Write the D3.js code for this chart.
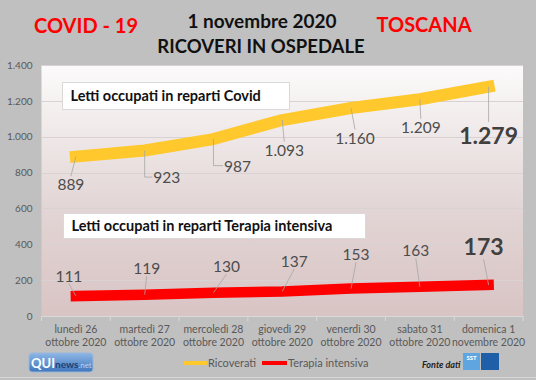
<!DOCTYPE html>
<html><head><meta charset="utf-8">
<script src="https://cdn.jsdelivr.net/npm/d3@7/dist/d3.min.js"></script>
<style>
html,body{margin:0;padding:0;background:#c0c0c0;}
svg{display:block;font-family:Lato,"Open Sans",sans-serif;}
</style></head>
<body>
<svg id="chart" width="536" height="380"></svg>
<script>
// ---- data ----
const categories = ["lunedì 26|ottobre 2020","martedì 27|ottobre 2020","mercoledì 28|ottobre 2020","giovedì  29|ottobre 2020","venerdì 30|ottobre 2020","sabato 31|ottobre 2020","domenica 1|novembre 2020"];
const ricoverati = [889, 923, 987, 1093, 1160, 1209, 1279];
const terapia = [111, 119, 130, 137, 153, 163, 173];
const yTicks = [0, 200, 400, 600, 800, 1000, 1200, 1400];
const seriesNames = ["Ricoverati", "Terapia intensiva"];
const titleMain = "1 novembre 2020";
const titleSub = "RICOVERI IN OSPEDALE";
const titleLeft = "COVID - 19";
const titleRight = "TOSCANA";
const noteCovid = "Letti occupati in reparti Covid";
const noteTI = "Letti occupati in reparti Terapia intensiva";

// label placement (layout, not data)
const ricOffsets = [[-5,28],[22,27],[24,27],[2,30],[4,30],[1,28],[0,49]];
const terOffsets = [[-7,-20],[2,-26],[13,-26],[12,-30],[5,-34],[-4,-36],[-5,-38]];

const loc = d3.formatLocale({decimal:",", thousands:".", grouping:[3], currency:["€",""]});
const fmt = loc.format(",d");

const svg = d3.select("#chart");
const W = 536, H = 380;
const plot = {left: 41.5, right: 523, top: 65, bottom: 316};

svg.append("rect").attr("width", W).attr("height", H).attr("fill", "#c0c0c0");
svg.append("line").attr("x1",0).attr("x2",W).attr("y1",377.5).attr("y2",377.5).attr("stroke","#d6d6d6");

const defs = svg.append("defs");
const grad = defs.append("linearGradient").attr("id","bg").attr("x1",0).attr("x2",0).attr("y1",0).attr("y2",1);
grad.append("stop").attr("offset","0%").attr("stop-color","#fcfbfb");
grad.append("stop").attr("offset","55%").attr("stop-color","#e3d6d6");
grad.append("stop").attr("offset","100%").attr("stop-color","#d9c4c4");

const x = d3.scaleBand().domain(categories).range([plot.left, plot.right]);
const y = d3.scaleLinear().domain([0, 1400]).range([plot.bottom, plot.top]);
const cx = c => x(c) + x.bandwidth()/2;

// plot area
svg.append("rect").attr("x", plot.left).attr("y", plot.top)
  .attr("width", plot.right - plot.left).attr("height", plot.bottom - plot.top)
  .attr("fill", "url(#bg)");

// grid
svg.append("g").selectAll("line").data(yTicks.filter(t => t > 0)).join("line")
  .attr("x1", plot.left).attr("x2", plot.right)
  .attr("y1", d => Math.round(y(d)) + 0.5).attr("y2", d => Math.round(y(d)) + 0.5)
  .attr("stroke", "#d8d2d2").attr("stroke-width", 1);

// y axis
const yAxis = svg.append("g").attr("transform", `translate(${plot.left},0)`)
  .call(d3.axisLeft(y).tickValues(yTicks).tickFormat(fmt).tickSize(0).tickPadding(9));
yAxis.select(".domain").remove();
yAxis.selectAll("text").attr("fill", "#595959").style("font-size", "10px").style("font-family", "Lato");

// x axis
const xAxis = svg.append("g").attr("transform", `translate(0,${plot.bottom})`)
  .call(d3.axisBottom(x).tickSize(0).tickFormat(""));
xAxis.select(".domain").attr("stroke", "#d9d9d9");
xAxis.selectAll(".tick").remove();
svg.append("g").selectAll("line").data(d3.range(categories.length + 1)).join("line")
  .attr("x1", i => plot.left + i * x.bandwidth()).attr("x2", i => plot.left + i * x.bandwidth())
  .attr("y1", plot.bottom).attr("y2", plot.bottom + 5).attr("stroke", "#d9d9d9");
const xl = svg.append("g").selectAll("text").data(categories).join("text")
  .attr("x", d => cx(d)).attr("y", plot.bottom + 17)
  .attr("text-anchor", "middle").attr("fill", "#595959").style("font-size", "10.5px");
xl.append("tspan").attr("x", d => cx(d)).text(d => d.split("|")[0]);
xl.append("tspan").attr("x", d => cx(d)).attr("dy", 13).text(d => d.split("|")[1]);

// annotation boxes
function noteBox(txt, bx, by, bw, bh) {
  const g = svg.append("g");
  g.append("rect").attr("x", bx).attr("y", by).attr("width", bw).attr("height", bh)
    .attr("fill", "#ffffff").attr("stroke", "#d9d9d9");
  g.append("text").attr("x", bx + 8).attr("y", by + bh/2).attr("dy", "0.36em")
    .attr("fill", "#111").style("font-weight", "bold").style("font-size", "14.5px").text(txt);
}
noteBox(noteCovid, 62.5, 82.5, 227, 27);
noteBox(noteTI, 63.5, 213.5, 302, 25);

// lines
const line = d3.line().x((d, i) => cx(categories[i])).y(d => y(d));
svg.append("path").datum(ricoverati).attr("d", line).attr("fill", "none")
  .attr("stroke", "#ffc82c").attr("stroke-width", 12).attr("stroke-linecap", "square").attr("stroke-linejoin", "round");
svg.append("path").datum(terapia).attr("d", line).attr("fill", "none")
  .attr("stroke", "#ff0000").attr("stroke-width", 10.5).attr("stroke-linecap", "square").attr("stroke-linejoin", "round");

// data labels with leader lines
function labels(data, offsets) {
  const g = svg.append("g");
  data.forEach((v, i) => {
    const px = cx(categories[i]), py = y(v);
    const last = i === data.length - 1;
    const lx = px + offsets[i][0], ly = py + offsets[i][1];
    const t = g.append("text").attr("x", lx).attr("y", ly).attr("dy", "0.36em")
      .attr("text-anchor", "middle").attr("fill", last ? "#404040" : "#4d4d4d")
      .style("font-size", last ? "23px" : "15.5px").style("font-weight", last ? "bold" : "normal")
      .text(fmt(v));
    const b = t.node().getBBox();
    const top = b.y + 2, bot = b.y + b.height - 2;
    let path;
    const below = ly > py;
    const ey = below ? top - 1 : bot + 1;
    if (px < b.x - 2) {
      path = `M${px},${py}V${b.y + b.height/2}H${b.x - 1}`;
    } else {
      const ex = Math.max(b.x + 4, Math.min(b.x + b.width - 4, lx));
      path = `M${px},${py}L${ex},${ey}`;
    }
    g.insert("path", "text").attr("d", path).attr("fill", "none").attr("stroke", "#a6a6a6").attr("stroke-width", 0.8);
  });
}
labels(ricoverati, ricOffsets);
labels(terapia, terOffsets);

// titles
svg.append("text").attr("x", 262).attr("y", 28).attr("text-anchor", "middle")
  .style("font-weight", "bold").style("font-size", "19px").attr("fill", "#111").text(titleMain);
svg.append("text").attr("x", 261).attr("y", 53).attr("text-anchor", "middle")
  .style("font-weight", "bold").style("font-size", "18.5px").attr("fill", "#111").text(titleSub);
svg.append("text").attr("x", 86).attr("y", 33).attr("text-anchor", "middle")
  .style("font-weight", "bold").style("font-size", "20px").attr("fill", "#ff0000").text(titleLeft);
svg.append("text").attr("x", 424).attr("y", 32).attr("text-anchor", "middle")
  .style("font-weight", "bold").style("font-size", "20px").attr("fill", "#ff0000").text(titleRight);

// legend
const colors = ["#ffc82c", "#ff0000"];
const lg = svg.append("g");
[[184, 207], [262, 287]].forEach((p, i) => {
  lg.append("line").attr("x1", p[0]).attr("x2", p[1]).attr("y1", 363).attr("y2", 363)
    .attr("stroke", colors[i]).attr("stroke-width", 4);
  lg.append("text").attr("x", p[1] + 1).attr("y", 367).attr("fill", "#595959")
    .style("font-size", "11px").text(seriesNames[i]);
});

// QUInews logo
const lgq = defs.append("linearGradient").attr("id","qg").attr("x1",0).attr("x2",0).attr("y1",0).attr("y2",1);
lgq.append("stop").attr("offset","0%").attr("stop-color","#8db6e6");
lgq.append("stop").attr("offset","100%").attr("stop-color","#3f76bb");
svg.append("rect").attr("x", 29).attr("y", 353).attr("width", 64).attr("height", 19).attr("rx", 3)
  .attr("fill", "url(#qg)").attr("stroke", "#9ab8da");
const qt = svg.append("text").attr("x", 31).attr("y", 368).style("font-weight", "bold");
qt.append("tspan").attr("fill", "#ffffff").style("font-size", "13px").text("QUI");
qt.append("tspan").attr("fill", "#1f3f73").style("font-size", "10px").text("news");
qt.append("tspan").attr("fill", "#b5d0f0").style("font-size", "8px").style("font-weight","normal").text(".net");

// Fonte dati + SST logo
svg.append("text").attr("x", 422).attr("y", 368).style("font-style", "italic").style("font-weight", "bold")
  .style("font-size", "9px").attr("fill", "#222").text("Fonte dati");
svg.append("rect").attr("x", 463).attr("y", 353).attr("width", 17).attr("height", 17).attr("fill", "#5fa5df");
svg.append("rect").attr("x", 481).attr("y", 353).attr("width", 18).attr("height", 17).attr("fill", "#1f5fa8");
svg.append("text").attr("x", 471.5).attr("y", 360).attr("text-anchor", "middle").attr("fill", "#fff")
  .style("font-size", "6px").style("font-weight", "bold").text("SST");
</script>
</body></html>
